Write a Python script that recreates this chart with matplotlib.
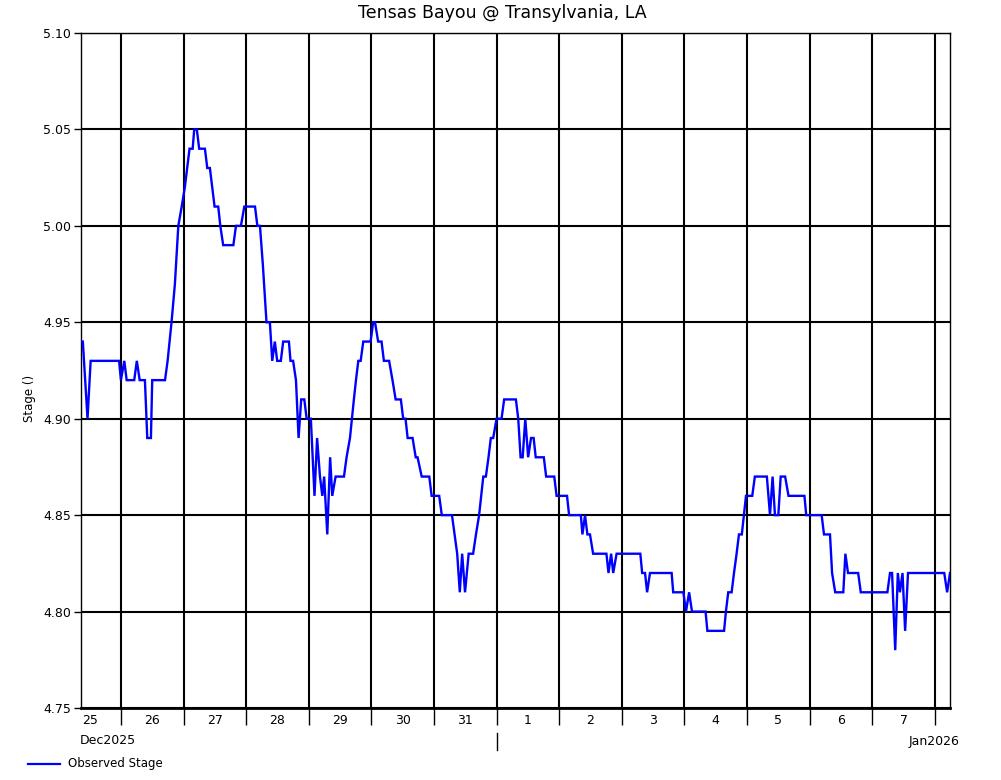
import matplotlib
matplotlib.use("Agg")
import matplotlib.pyplot as plt
import matplotlib.dates as mdates
import matplotlib.transforms as mtrans
from datetime import datetime, timedelta

title = "Tensas Bayou @ Transylvania, LA"
ylabel = "Stage ()"
series_name = "Observed Stage"

# hours after 2025-12-25 00:00 (local) and observed stage values
hours = [8.7, 9.4, 11.2, 12.4, 23.3, 24.0, 25.3, 26.2, 29.1, 30.1, 31.2, 33.2, 34.1, 35.5, 36.0,
         40.9, 41.9, 43.4, 44.7, 46.0, 47.3, 48.5, 49.4, 50.3, 51.5, 52.1, 53.1, 54.0, 56.2, 57.1,
         58.1, 59.0, 59.9, 61.3, 62.1, 63.2, 67.1, 68.1, 70.0, 71.3, 75.4, 76.3, 77.3, 78.4, 79.8,
         81.1, 82.0, 83.0, 83.9, 85.3, 86.2, 88.4, 89.0, 90.0, 91.1, 92.1, 93.1, 94.3, 95.2, 96.8,
         98.2, 99.2, 100.3, 101.2, 101.9, 103.1, 104.2, 105.0, 106.3, 109.5, 110.5, 111.8, 113.3, 114.1,
         115.0, 115.9, 116.9, 119.7, 120.7, 121.4, 122.6, 123.9, 124.8, 126.8, 128.1, 129.3, 131.3,
         132.2, 133.1, 133.9, 135.8, 137.0, 137.7, 139.3, 142.2, 143.1, 146.0, 147.0, 150.9, 151.9,
         152.9, 153.9, 154.8, 155.9, 157.3, 159.0, 160.1, 161.3, 162.9, 163.9, 164.9, 165.8, 166.7,
         168.0, 169.9, 170.9, 175.4, 176.3, 177.2, 178.0, 179.0, 180.1, 181.2, 182.2, 183.0, 186.1,
         187.0, 190.1, 191.0, 195.0, 195.8, 200.3, 200.9, 201.9, 202.8, 203.8, 205.0, 210.1, 210.9,
         211.9, 212.7, 214.0, 223.1, 223.8, 224.9, 225.7, 226.8, 235.1, 235.7, 239.6, 240.6, 241.8,
         242.9, 248.1, 248.8, 255.2, 255.9, 256.8, 258.1, 259.0, 260.0, 260.9, 262.0, 262.8, 263.6,
         266.0, 267.0, 271.6, 272.8, 273.8, 274.7, 276.0, 276.9, 278.6, 279.9, 286.0, 286.7, 292.6,
         293.5, 295.8, 296.6, 297.8, 300.9, 301.7, 302.7, 306.6, 307.6, 317.8, 318.8, 319.6, 320.8,
         321.8, 322.6, 323.6, 324.6, 325.7, 339.6, 340.7, 341.8]
stage = [4.94, 4.94, 4.90, 4.93, 4.93, 4.92, 4.93, 4.92, 4.92, 4.93, 4.92, 4.92, 4.89, 4.89, 4.92,
         4.92, 4.93, 4.95, 4.97, 5.00, 5.01, 5.02, 5.03, 5.04, 5.04, 5.05, 5.05, 5.04, 5.04, 5.03,
         5.03, 5.02, 5.01, 5.01, 5.00, 4.99, 4.99, 5.00, 5.00, 5.01, 5.01, 5.00, 5.00, 4.98, 4.95,
         4.95, 4.93, 4.94, 4.93, 4.93, 4.94, 4.94, 4.93, 4.93, 4.92, 4.89, 4.91, 4.91, 4.90, 4.90,
         4.86, 4.89, 4.87, 4.86, 4.87, 4.84, 4.88, 4.86, 4.87, 4.87, 4.88, 4.89, 4.91, 4.92,
         4.93, 4.93, 4.94, 4.94, 4.95, 4.95, 4.94, 4.94, 4.93, 4.93, 4.92, 4.91, 4.91,
         4.90, 4.90, 4.89, 4.89, 4.88, 4.88, 4.87, 4.87, 4.86, 4.86, 4.85, 4.85, 4.84,
         4.83, 4.81, 4.83, 4.81, 4.83, 4.83, 4.84, 4.85, 4.87, 4.87, 4.88, 4.89, 4.89,
         4.90, 4.90, 4.91, 4.91, 4.90, 4.88, 4.88, 4.90, 4.88, 4.89, 4.89, 4.88, 4.88,
         4.87, 4.87, 4.86, 4.86, 4.85, 4.85, 4.84, 4.85, 4.84, 4.84, 4.83, 4.83, 4.82,
         4.83, 4.82, 4.83, 4.83, 4.82, 4.82, 4.81, 4.82, 4.82, 4.81, 4.81, 4.80, 4.81,
         4.80, 4.80, 4.79, 4.79, 4.80, 4.81, 4.81, 4.82, 4.83, 4.84, 4.84, 4.85, 4.86,
         4.86, 4.87, 4.87, 4.85, 4.87, 4.85, 4.85, 4.87, 4.87, 4.86, 4.86, 4.85, 4.85,
         4.84, 4.84, 4.82, 4.81, 4.81, 4.83, 4.82, 4.82, 4.81, 4.81, 4.82, 4.82, 4.78,
         4.82, 4.81, 4.82, 4.79, 4.82, 4.82, 4.81, 4.82]

y_ticks = [4.75, 4.80, 4.85, 4.90, 4.95, 5.00, 5.05, 5.10]
month_labels = ["Dec2025", "Jan2026"]

base = datetime(2025, 12, 25)
times = [base + timedelta(hours=h) for h in hours]

fig = plt.figure(figsize=(10.01, 7.80), dpi=100)
W, H = 1001, 780
ax = fig.add_axes([81 / W, 1 - 708 / H, (950 - 81) / W, (708 - 33) / H])

ax.plot(times, stage, color="#0000ff", lw=1.7, solid_joinstyle="miter", zorder=3)

ax.set_xlim(times[0], times[-1])
ax.set_ylim(4.75, 5.10)
ax.set_yticks(y_ticks)
ax.set_yticklabels([f"{v:.2f}" for v in y_ticks], fontsize=9)

ax.xaxis.set_major_locator(mdates.DayLocator())
ax.xaxis.set_major_formatter(plt.NullFormatter())
ax.xaxis.set_minor_locator(mdates.HourLocator(byhour=[12]))
ax.xaxis.set_minor_formatter(mdates.DateFormatter("%-d"))
ax.tick_params(axis="x", which="major", length=12, width=1, direction="out", color="black")
ax.tick_params(axis="x", which="minor", length=0, labelsize=9, pad=4)
ax.tick_params(axis="y", length=5, width=1, pad=2)

ax.grid(True, which="major", color="black", lw=1.5)
ax.set_axisbelow(True)
for s in ["left", "right", "top"]:
    ax.spines[s].set_linewidth(1)
ax.spines["bottom"].set_linewidth(2)

fig.text(502 / W, 1 - 13 / H, title, ha="center", va="center", fontsize=12.5)
fig.text(29 / W, 1 - 398 / H, ylabel, rotation=90, ha="center", va="center", fontsize=8.5)

fig.text(80 / W, 1 - 741 / H, month_labels[0], ha="left", va="center", fontsize=9)
fig.text(959 / W, 1 - 741 / H, month_labels[1], ha="right", va="center", fontsize=9)

# month separator tick at Jan 1 on second label row
trans = mtrans.blended_transform_factory(ax.transData, ax.transAxes)
jan1 = mdates.date2num(datetime(2026, 1, 1))
ax.plot([jan1, jan1], [(708 - 733) / 675, (708 - 750) / 675], color="black", lw=1,
        transform=trans, clip_on=False)

# legend
fig.lines.append(plt.Line2D([28 / W, 60 / W], [1 - 764 / H, 1 - 764 / H], color="#0000ff",
                            lw=1.6, transform=fig.transFigure))
fig.text(68 / W, 1 - 764 / H, series_name, ha="left", va="center", fontsize=8.5)

fig.savefig("out.png", dpi=100)
